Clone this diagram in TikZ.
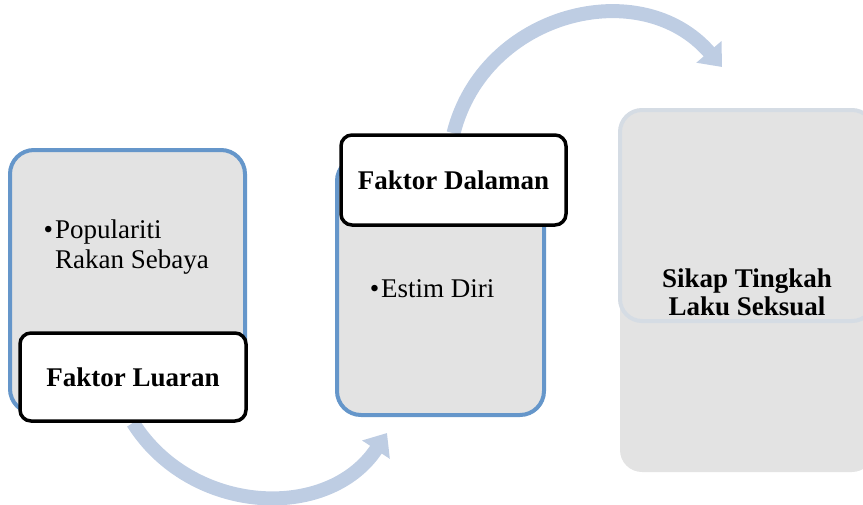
\documentclass[tikz,border=0pt]{standalone}
\usepackage{fontspec}
\setmainfont{Liberation Serif}
\usetikzlibrary{arrows.meta,backgrounds}

\definecolor{boxblue}{RGB}{101,150,202}
\definecolor{boxgray}{RGB}{227,227,227}
\definecolor{flowblue}{RGB}{190,205,227}
\definecolor{paleedge}{RGB}{213,220,228}

\begin{document}
\begin{tikzpicture}[x=1pt,y=-1pt,
  every node/.style={inner sep=0pt, font=\fontsize{27}{30}\selectfont},
  factorbox/.style={draw=boxblue, line width=4pt, fill=boxgray, rounded corners=24pt},
  labelbox/.style={draw=black, line width=3.5pt, fill=white, rounded corners=11pt, font=\fontsize{27}{30}\selectfont\bfseries},
  flow/.style={draw=flowblue, line width=14pt, -{Triangle[width=32pt,length=20pt]}}]
  \useasboundingbox (0,0) rectangle (863,504);
  \clip (0,0) rectangle (863,504);

  \node[factorbox, minimum width=235, minimum height=263] (luarbox) at (127.5,281.5) {};
  \node[anchor=north west, align=left] (rakan) at (55,219.6) {\llap{\textbullet\hspace{2pt}}Populariti\\Rakan Sebaya};
  \node[labelbox, minimum width=226, minimum height=88] (luaran) at (133,377) {Faktor Luaran};

  \node[factorbox, minimum width=207, minimum height=258] (dalambox) at (440.5,286) {};
  \node[anchor=base west] (estim) at (381,297) {\llap{\textbullet\hspace{2pt}}Estim Diri};
  \node[labelbox, minimum width=225, minimum height=90] (dalaman) at (453.5,180) {Faktor Dalaman};

  \node[fill=boxgray, rounded corners=22pt, minimum width=254, minimum height=362] (sikapbox) at (747,291) {};
  \node[draw=paleedge, line width=4pt, rounded corners=22pt, minimum width=254, minimum height=211] (sikapedge) at (747,215.5) {};
  \node[align=center, font=\fontsize{27}{28}\selectfont\bfseries] (sikap) at (747,292) {Sikap Tingkah\\Laku Seksual};

  \coordinate (tipa) at (387,433);
  \coordinate (tipb) at (722,67);
  \begin{scope}[on background layer]
    \draw[flow] (luaran.south) .. controls (191,515) and (328,522) .. (tipa);
    \draw[flow] (dalaman.north) .. controls (484,12) and (641,-27) .. (tipb);
  \end{scope}
\end{tikzpicture}
\end{document}
